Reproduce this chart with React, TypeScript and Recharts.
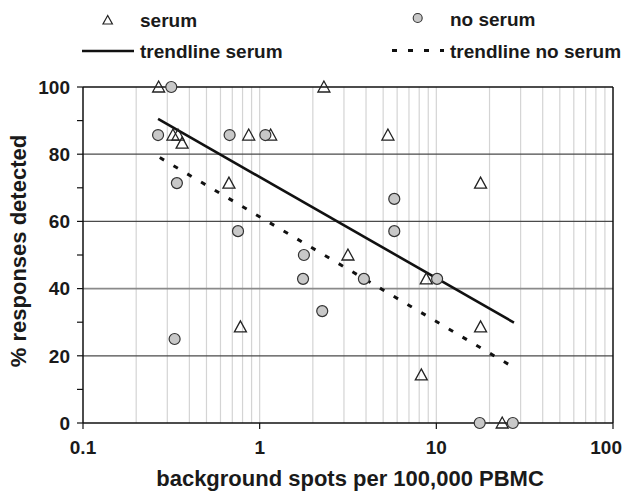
import React from 'react';
import { ScatterChart, Scatter, XAxis, YAxis, ReferenceLine, Label } from 'recharts';

const serumPoints = [
  { x: 0.268, y: 100 }, { x: 2.31, y: 100 },
  { x: 0.323, y: 85.7 }, { x: 0.345, y: 85.7 }, { x: 0.364, y: 83.3 },
  { x: 0.867, y: 85.7 }, { x: 1.154, y: 85.7 }, { x: 5.32, y: 85.7 },
  { x: 0.67, y: 71.4 }, { x: 17.8, y: 71.4 }, { x: 3.16, y: 50 },
  { x: 8.77, y: 42.9 }, { x: 0.778, y: 28.6 }, { x: 17.8, y: 28.6 },
  { x: 8.22, y: 14.3 }, { x: 23.6, y: 0 },
];

const noSerumPoints = [
  { x: 0.316, y: 100 }, { x: 0.266, y: 85.7 }, { x: 0.676, y: 85.7 },
  { x: 1.077, y: 85.7 }, { x: 0.34, y: 71.4 }, { x: 5.78, y: 66.7 },
  { x: 0.754, y: 57.1 }, { x: 5.78, y: 57.1 }, { x: 1.78, y: 50 },
  { x: 1.76, y: 42.9 }, { x: 3.89, y: 42.9 }, { x: 10.1, y: 42.9 },
  { x: 2.26, y: 33.3 }, { x: 0.33, y: 25 }, { x: 17.6, y: 0 }, { x: 27.1, y: 0 },
];

const trendSerum = [{ x: 0.266, y: 90.5 }, { x: 27.5, y: 29.9 }];
const trendNoSerum = [{ x: 0.272, y: 79.0 }, { x: 26.5, y: 17.0 }];

const xTicks = [0.1, 1, 10, 100];
const xMinorGrid = [0.2, 0.3, 0.4, 0.5, 0.6, 0.7, 0.8, 0.9, 1, 2, 3, 4, 5, 6, 7, 8, 9, 10, 20, 30, 40, 50, 60, 70, 80, 90];
const yTicks = [0, 10, 20, 30, 40, 50, 60, 70, 80, 90, 100];
const yGrid = [20, 40, 60, 80];

const FONT = '"Liberation Sans", Arial, Helvetica, sans-serif';
const INK = '#1a1a1a';

const Triangle = (props: any) => {
  const { cx, cy } = props;
  if (cx == null || cy == null) return null;
  return (
    <polygon
      points={`${cx},${cy - 6} ${cx - 6},${cy + 5} ${cx + 6},${cy + 5}`}
      fill="none"
      stroke="#222"
      strokeWidth={1.3}
    />
  );
};

const Dot = (props: any) => {
  const { cx, cy } = props;
  if (cx == null || cy == null) return null;
  return <circle cx={cx} cy={cy} r={5.5} fill="#c8c8c8" stroke="#333" strokeWidth={1.2} />;
};

const NoShape = () => null;

const XTick = (props: any) => {
  const { x, y, payload } = props;
  const last = payload.value === xTicks[xTicks.length - 1];
  return (
    <text
      x={x + (last ? 9 : 0)}
      y={y}
      dy={21}
      textAnchor={last ? 'end' : 'middle'}
      fill={INK}
      fontSize={19}
      fontWeight="bold"
      fontFamily={FONT}
    >
      {payload.value}
    </text>
  );
};

const YTitle = (props: any) => {
  const { viewBox } = props;
  const cx = 18;
  const cy = viewBox.y + viewBox.height / 2 - 4;
  return (
    <text
      x={cx}
      y={cy}
      transform={`rotate(-90 ${cx} ${cy})`}
      textAnchor="middle"
      dominantBaseline="central"
      fill={INK}
      fontSize={22}
      fontWeight="bold"
      fontFamily={FONT}
    >
      % responses detected
    </text>
  );
};

const XTitle = (props: any) => {
  const { viewBox } = props;
  return (
    <text
      x={viewBox.x + viewBox.width / 2 + 2}
      y={viewBox.y + 63}
      textAnchor="middle"
      fill={INK}
      fontSize={22}
      fontWeight="bold"
      fontFamily={FONT}
    >
      background spots per 100,000 PBMC
    </text>
  );
};

const legendText = { fill: INK, fontSize: 19, fontWeight: 'bold' as const, fontFamily: FONT };

const TopLegend = () => (
  <svg width={625} height={70} style={{ position: 'absolute', left: 0, top: 0 }}>
    <polygon points="107.7,15.5 103,24 112.4,24" fill="none" stroke="#222" strokeWidth={1.2} />
    <text x={140} y={26.5} {...legendText}>serum</text>
    <circle cx={417.7} cy={18} r={4.5} fill="#c8c8c8" stroke="#333" strokeWidth={1.1} />
    <text x={450} y={26} {...legendText}>no serum</text>
    <line x1={82} y1={51} x2={134} y2={51} stroke="#111" strokeWidth={2.5} />
    <text x={140} y={58} {...legendText}>trendline serum</text>
    <line x1={392} y1={50.5} x2={444} y2={50.5} stroke="#111" strokeWidth={3} strokeDasharray="5 11" />
    <text x={450} y={57.5} {...legendText}>trendline no serum</text>
  </svg>
);

export default function App() {
  return (
    <div style={{ position: 'absolute', left: 0, top: 0, width: 625, height: 491, background: '#fff' }}>
      <ScatterChart width={625} height={491} margin={{ top: 87, right: 12, bottom: 0, left: 0 }}>
        <XAxis
          type="number"
          dataKey="x"
          scale="log"
          domain={[0.1, 100]}
          ticks={xTicks}
          allowDataOverflow
          height={68}
          tick={<XTick />}
          tickSize={6}
          tickMargin={4}
          axisLine={{ stroke: '#111', strokeWidth: 1.5 }}
          tickLine={{ stroke: '#111', strokeWidth: 1.2 }}
        >
          <Label content={<XTitle />} />
        </XAxis>
        <YAxis
          type="number"
          dataKey="y"
          domain={[0, 100]}
          ticks={yTicks}
          interval={0}
          width={83}
          tickSize={6}
          tickMargin={7}
          tickFormatter={(v: number) => (v % 20 === 0 ? String(v) : '')}
          tick={{ fill: INK, fontSize: 19, fontWeight: 'bold', fontFamily: FONT }}
          axisLine={{ stroke: '#111', strokeWidth: 1.5 }}
          tickLine={{ stroke: '#111', strokeWidth: 1.2 }}
        >
          <Label content={<YTitle />} />
        </YAxis>
        {xMinorGrid.map((v) => (
          <ReferenceLine key={`gx${v}`} x={v} stroke="#d4d4d4" strokeWidth={1.2} />
        ))}
        {yGrid.map((v) => (
          <ReferenceLine key={`gy${v}`} y={v} stroke={v === 40 ? '#8a8a8a' : '#4a4a4a'} strokeWidth={v === 40 ? 1.6 : 1.2} />
        ))}
        <ReferenceLine y={100} stroke="#111" strokeWidth={1.5} />
        <ReferenceLine x={100} stroke="#111" strokeWidth={1.5} />
        <Scatter
          name="trendline serum"
          data={trendSerum}
          line={{ stroke: '#111', strokeWidth: 2.6 }}
          shape={<NoShape />}
          isAnimationActive={false}
        />
        <Scatter
          name="trendline no serum"
          data={trendNoSerum}
          line={{ stroke: '#111', strokeWidth: 3, strokeDasharray: '5 11' }}
          shape={<NoShape />}
          isAnimationActive={false}
        />
        <Scatter name="serum" data={serumPoints} shape={<Triangle />} isAnimationActive={false} />
        <Scatter name="no serum" data={noSerumPoints} shape={<Dot />} isAnimationActive={false} />
      </ScatterChart>
      <TopLegend />
    </div>
  );
}
